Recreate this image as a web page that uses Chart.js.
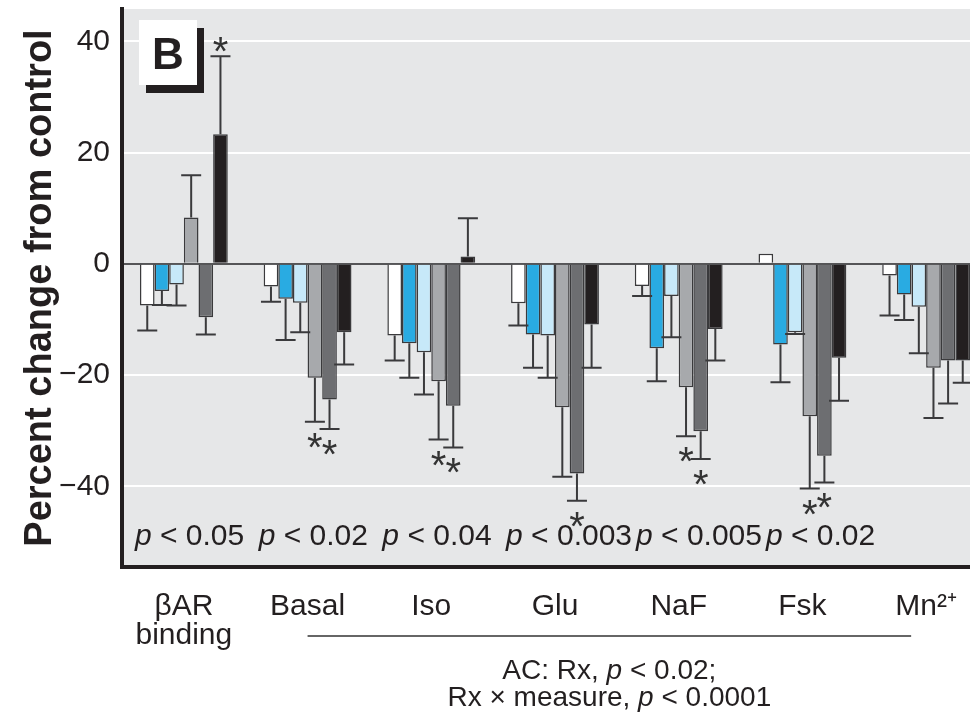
<!DOCTYPE html>
<html>
<head>
<meta charset="utf-8">
<script src="https://cdn.jsdelivr.net/npm/chart.js@4.4.1/dist/chart.umd.min.js"></script>
<style>
html,body{margin:0;padding:0;background:#ffffff;overflow:hidden;width:970px;height:719px}
#wrap{width:988px;height:719px}
canvas{display:block}
</style>
</head>
<body>
<div id="wrap"><canvas id="c" width="988" height="719"></canvas></div>
<script>
// ---- data ----
const categories = [['βAR', 'binding'], 'Basal', 'Iso', 'Glu', 'NaF', 'Fsk', 'Mn²⁺'];
const seriesNames = ['Group 1', 'Group 2', 'Group 3', 'Group 4', 'Group 5', 'Group 6'];

const whiteVals  = [-7.5, -4.1, -12.9, -7.1, -4.0, 1.8, -2.1];
const whiteErr   = [4.5, 2.7, 4.5, 4.0, 1.8, 0, 7.2];
const blueVals   = [-4.9, -6.3, -14.3, -12.7, -15.2, -14.5, -5.5];
const blueErr    = [2.5, 7.4, 6.2, 6.0, 5.9, 6.8, 4.6];
const ltBlueVals = [-3.7, -7.0, -15.9, -12.9, -5.8, -12.3, -7.7];
const ltBlueErr  = [3.8, 5.3, 7.6, 7.6, 7.4, 0.3, 8.4];
const ltGrayVals = [8.3, -20.5, -21.1, -25.8, -22.2, -27.4, -18.7];
const ltGrayErr  = [7.6, 7.9, 10.5, 12.5, 8.8, 13.0, 9.0];
const dkGrayVals = [-9.6, -24.4, -25.5, -37.7, -30.1, -34.5, -17.4];
const dkGrayErr  = [3.1, 5.3, 7.5, 4.9, 5.0, 4.8, 7.7];
const blackVals  = [23.3, -12.3, 1.3, -10.9, -11.7, -16.9, -17.4];
const blackErr   = [14.0, 5.8, 6.9, 7.8, 5.7, 7.7, 4.0];

const noSig      = [0, 0, 0, 0, 0, 0, 0];
const ltGraySig  = [0, 1, 1, 0, 1, 1, 0];
const dkGraySig  = [0, 1, 1, 1, 1, 1, 0];
const blackSig   = [1, 0, 0, 0, 0, 0, 0];

const pLabels = ['< 0.05', '< 0.02', '< 0.04', '< 0.003', '< 0.005', '< 0.02', ''];
const yTicks = [-40, -20, 0, 20, 40];
const yTitle = 'Percent change from control';
const panelLetter = 'B';
const captionLine1 = ['AC: Rx, ', 'p', ' < 0.02;'];
const captionLine2 = ['Rx × measure, ', 'p', ' < 0.0001'];

// ---- styles ----
const FONT = "'Liberation Sans', Arial, sans-serif";
const INK = '#231f20';
const EDGE = '#3a3a3c';
const colors = ['#ffffff', '#29abe2', '#c7e9f9', '#a7a9ac', '#6d6e71', '#231f20'];

const valsList = [whiteVals, blueVals, ltBlueVals, ltGrayVals, dkGrayVals, blackVals];
const errList = [whiteErr, blueErr, ltBlueErr, ltGrayErr, dkGrayErr, blackErr];
const sigList = [noSig, noSig, noSig, ltGraySig, dkGraySig, blackSig];

const datasets = valsList.map((v, i) => ({
  label: seriesNames[i],
  data: v,
  errors: errList[i],
  sig: sigList[i],
  backgroundColor: colors[i],
  borderColor: EDGE,
  borderWidth: 1.5,
  categoryPercentage: 0.71,
  barPercentage: 1.0
}));

const bgPlugin = {
  id: 'bg',
  beforeDraw(chart) {
    const {ctx, chartArea: a} = chart;
    ctx.save();
    ctx.fillStyle = '#e6e7e8';
    ctx.fillRect(a.left, a.top, a.right - a.left, a.bottom - a.top);
    ctx.restore();
  }
};

const errPlugin = {
  id: 'err',
  afterDatasetsDraw(chart) {
    const {ctx} = chart;
    const ys = chart.scales.y;
    ctx.save();
    chart.data.datasets.forEach((ds, i) => {
      const meta = chart.getDatasetMeta(i);
      meta.data.forEach((bar, j) => {
        const v = ds.data[j];
        const e = ds.errors[j];
        const end = v >= 0 ? v + e : v - e;
        const y0 = ys.getPixelForValue(v);
        const y1 = ys.getPixelForValue(end);
        if (e > 0) {
          ctx.strokeStyle = EDGE;
          ctx.lineWidth = 2;
          ctx.beginPath();
          ctx.moveTo(bar.x, y0);
          ctx.lineTo(bar.x, y1);
          ctx.moveTo(bar.x - 10, y1);
          ctx.lineTo(bar.x + 10, y1);
          ctx.stroke();
        }
        if (ds.sig[j]) {
          ctx.fillStyle = '#333333';
          ctx.font = '40px ' + FONT;
          ctx.textAlign = 'center';
          ctx.textBaseline = 'alphabetic';
          const base = v >= 0 ? y1 + 9 : y1 + 39;
          ctx.fillText('*', bar.x, base);
        }
      });
    });
    ctx.restore();
  }
};

function drawPText(ctx, x, y, parts, size) {
  let cx = x;
  parts.forEach((p, k) => {
    ctx.font = (k === 1 ? 'italic ' : '') + size + 'px ' + FONT;
    ctx.fillText(p, cx, y);
    cx += ctx.measureText(p).width;
  });
  return cx;
}

const annotPlugin = {
  id: 'annot',
  afterDraw(chart) {
    const {ctx, chartArea: a} = chart;
    const xs = chart.scales.x;
    const meta0 = chart.getDatasetMeta(0);
    ctx.save();
    ctx.fillStyle = INK;
    ctx.textAlign = 'left';
    ctx.textBaseline = 'alphabetic';
    let prevEnd = -1e9;
    pLabels.forEach((lab, j) => {
      if (!lab) return;
      const bar = meta0.data[j];
      const left = bar.x - bar.width / 2;
      const start = Math.max(left - 5, prevEnd + 4);
      prevEnd = drawPText(ctx, start, a.bottom - 22, ['', 'p', ' ' + lab], 30);
    });
    ctx.fillStyle = INK;
    ctx.fillRect(a.left + 24, a.top + 19, 58, 65);
    ctx.fillStyle = '#ffffff';
    ctx.fillRect(a.left + 17, a.top + 11, 58, 65);
    ctx.fillStyle = INK;
    ctx.font = 'bold 44px ' + FONT;
    ctx.textAlign = 'center';
    ctx.fillText(panelLetter, a.left + 46, a.top + 60);
    const lx0 = xs.getPixelForValue(1);
    const lx1 = xs.getPixelForValue(6) - 15;
    ctx.strokeStyle = '#333333';
    ctx.lineWidth = 1.5;
    ctx.beginPath();
    ctx.moveTo(lx0, a.bottom + 69);
    ctx.lineTo(lx1, a.bottom + 69);
    ctx.stroke();
    const cx = (lx0 + lx1) / 2;
    [[captionLine1, a.bottom + 112], [captionLine2, a.bottom + 139]].forEach(([parts, y]) => {
      let w = 0;
      parts.forEach((p, k) => { ctx.font = (k === 1 ? 'italic ' : '') + '28px ' + FONT; w += ctx.measureText(p).width; });
      ctx.textAlign = 'left';
      drawPText(ctx, cx - w / 2, y, parts, 28);
    });
    ctx.restore();
  }
};

new Chart(document.getElementById('c'), {
  type: 'bar',
  data: { labels: categories, datasets },
  plugins: [bgPlugin, errPlugin, annotPlugin],
  options: {
    responsive: false,
    devicePixelRatio: 1,
    animation: false,
    layout: { padding: { top: 9, right: 0, left: 0, bottom: 0 } },
    plugins: { legend: { display: false }, tooltip: { enabled: false } },
    scales: {
      x: {
        afterFit(s) { s.height = 152; s.paddingLeft = 0; s.paddingRight = 0; },
        grid: { display: false, drawTicks: false },
        border: { display: true, color: INK, width: 4 },
        ticks: { color: INK, padding: 25, font: { family: FONT, size: 30, lineHeight: 0.97 }, maxRotation: 0, autoSkip: false }
      },
      y: {
        min: -54.5,
        max: 45.8,
        afterFit(s) { s.width = 122; s.paddingTop = 0; s.paddingBottom = 0; },
        afterBuildTicks(s) { s.ticks = yTicks.map(v => ({ value: v })); },
        grid: {
          drawTicks: false,
          color: c => (c.tick && c.tick.value === 0) ? '#555557' : '#ffffff',
          lineWidth: 2
        },
        border: { display: true, color: INK, width: 4 },
        ticks: {
          color: INK,
          padding: 12,
          font: { family: FONT, size: 30 },
          callback: v => v < 0 ? '\u2212' + Math.abs(v) : String(v)
        },
        title: {
          display: true,
          text: yTitle,
          color: INK,
          font: { family: FONT, size: 38, weight: 'bold', lineHeight: 1.0 },
          padding: { top: 22, bottom: 0 }
        }
      }
    }
  }
});
</script>
</body>
</html>
